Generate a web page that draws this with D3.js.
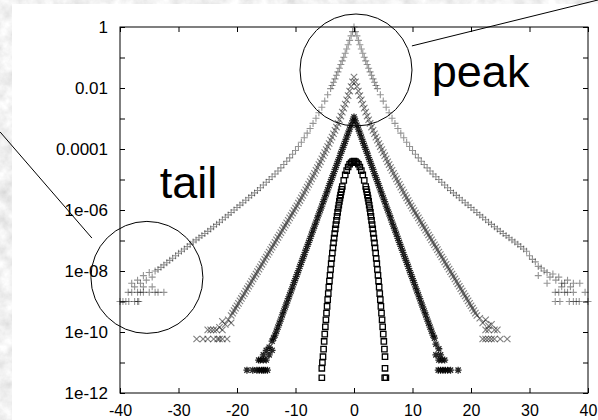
<!DOCTYPE html>
<html>
<head>
<meta charset="utf-8">
<script src="https://cdn.jsdelivr.net/npm/d3@7"></script>
<style>
body { margin: 0; background: #fff; }
svg { display: block; }
text { font-family: "Liberation Sans", Arial, Helvetica, sans-serif; }
</style>
</head>
<body>
<div id="chart"></div>
<script>
// values: |x| and log10 of the probability (the curves are symmetric)
var plusAbsX = [0,0.25,0.5,0.75,1,1.25,1.5,1.75,2,2.25,2.5,2.75,3,3.25,3.5,3.75,4,
  4.5,5,5.5,6,6.5,7,7.5,8,8.5,9,9.5,10,10.5,11,11.5,12,12.5,13,13.5,14,14.5,15,15.5,16,16.5,
  17,17.5,18,18.5,19,19.5,20,20.5,21,21.5,22,22.5,23,23.5,24,24.5,25,25.5,26,26.5,27,27.5,28,28.5,29,29.5];
var plusLog = [0,-0.15,-0.29,-0.44,-0.58,-0.72,-0.86,-0.99,-1.11,-1.23,-1.35,-1.47,-1.58,-1.7,-1.81,-1.92,-2.02,
  -2.22,-2.43,-2.63,-2.81,-2.99,-3.16,-3.33,-3.48,-3.63,-3.78,-3.92,-4.05,-4.17,-4.29,-4.4,-4.51,-4.62,-4.72,-4.82,-4.91,-5.0,-5.09,-5.18,-5.27,-5.36,
  -5.44,-5.52,-5.6,-5.68,-5.76,-5.84,-5.92,-6.0,-6.08,-6.16,-6.24,-6.32,-6.4,-6.47,-6.55,-6.62,-6.7,-6.77,-6.84,-6.91,-6.98,-7.05,-7.12,-7.2,-7.28,-7.35];
// noisy tails (signed x)
var plusTailX = [-30,-30.5,-31,-31.5,-32,-32.5,-33,-33.5,-34,-34.5,-35,-35.5,-36,-36.5,-37,-37.5,-36,-34.5,-38,
  -32.5,-33.5,-34,-35,-36,-36.5,-37,-38,-38.6,
  -36.8,-37,-37.5,-38.5,-39,-39.5,-40,
  30,30.5,31,31.5,32,32.5,33,33.5,34,34.5,35,35.5,36,33,31.5,36.5,37,
  35.5,37.5,38.6,
  34.4,35,36,36.5,37.5,39.5,
  34.4,35.2,36.8,37.5,38,38.5,40];
var plusTailLog = [-7.42,-7.5,-7.58,-7.65,-7.73,-7.8,-7.88,-7.95,-8.0,-8.2,-8.05,-8.3,-8.15,-8.4,-8.3,-8.52,-8.52,-8.52,-8.4,
  -8.7,-8.7,-8.7,-8.7,-8.7,-8.7,-8.7,-8.7,-8.7,
  -9,-9,-9,-9,-9,-9,-9,
  -7.5,-7.62,-7.7,-7.85,-7.9,-8.0,-8.05,-8.2,-8.1,-8.3,-8.2,-8.52,-8.4,-8.4,-8.15,-8.3,-8.52,
  -8.4,-8.4,-8.4,
  -8.7,-8.7,-8.7,-8.7,-8.7,-8.7,
  -9,-9,-9,-9,-9,-9,-9];

var crossAbsX = [0,0.25,0.5,0.75,1,1.25,1.5,1.75,2,2.25,2.5,2.75,3,3.25,3.5,3.75,4,4.25,4.5,4.75,5,5.25,5.5,5.75,
  6,6.25,6.5,6.75,7,7.25,7.5,7.75,8,8.25,8.5,8.75,9,9.25,9.5,9.75,10,10.25,10.5,10.75,11,11.25,11.5,11.75,
  12,12.25,12.5,12.75,13,13.25,13.5,13.75,14,14.25,14.5,14.75,15,15.25,15.5,15.75,16,16.25,16.5,16.75,
  17,17.25,17.5,17.75,18,18.25,18.5,18.75,19,19.25,19.5,19.75,20,20.25,20.5,20.75,21];
var crossLog = [-1.64,-1.8,-1.95,-2.1,-2.25,-2.39,-2.53,-2.66,-2.79,-2.92,-3.04,-3.16,-3.28,-3.39,-3.5,-3.61,-3.71,-3.82,-3.92,-4.02,-4.12,-4.22,-4.32,-4.42,
  -4.51,-4.61,-4.7,-4.8,-4.89,-4.98,-5.07,-5.16,-5.25,-5.34,-5.43,-5.52,-5.6,-5.69,-5.77,-5.86,-5.94,-6.02,-6.1,-6.18,-6.26,-6.34,-6.42,-6.5,
  -6.58,-6.66,-6.74,-6.82,-6.9,-6.98,-7.06,-7.14,-7.22,-7.3,-7.38,-7.46,-7.54,-7.62,-7.7,-7.78,-7.86,-7.94,-8.02,-8.1,
  -8.18,-8.26,-8.34,-8.42,-8.5,-8.58,-8.66,-8.74,-8.82,-8.9,-8.98,-9.06,-9.14,-9.22,-9.3,-9.38,-9.46];
var crossTailX = [-21.5,-22,-22.5,-23,-21,-23.5,-24,-24.5,-25,-22.5,-21.7,-22.5,-23,-23.3,-24,-25,-25.8,-26.9,
  21.5,22,22.5,23,23.5,24,23,22.5,24.5,22,22.5,23,23.5,24,25,26.2];
var crossTailLog = [-9.6,-9.75,-9.65,-9.85,-9.7,-9.93,-9.93,-9.93,-9.93,-9.93,-10.23,-10.23,-10.23,-10.23,-10.23,-10.23,-10.23,-10.23,
  -9.55,-9.7,-9.6,-9.8,-9.75,-9.93,-9.93,-9.93,-9.93,-10.23,-10.23,-10.23,-10.23,-10.23,-10.23,-10.23];

var starAbsX = [0,0.25,0.5,0.75,1,1.25,1.5,1.75,2,2.25,2.5,2.75,3,3.25,3.5,3.75,4,4.25,4.5,4.75,5,5.25,5.5,5.75,
  6,6.25,6.5,6.75,7,7.25,7.5,7.75,8,8.25,8.5,8.75,9,9.25,9.5,9.75,10,10.25,10.5,10.75,11,11.25,11.5,11.75,
  12,12.25,12.5,12.75,13,13.25,13.5];
var starLog = [-2.95,-3.08,-3.22,-3.35,-3.48,-3.61,-3.75,-3.88,-4.01,-4.14,-4.28,-4.41,-4.54,-4.67,-4.81,-4.94,-5.07,-5.2,-5.34,-5.47,-5.6,-5.73,-5.87,-6.0,
  -6.13,-6.26,-6.4,-6.53,-6.66,-6.79,-6.93,-7.06,-7.19,-7.32,-7.46,-7.59,-7.72,-7.85,-7.99,-8.12,-8.25,-8.38,-8.52,-8.65,-8.78,-8.91,-9.05,-9.18,
  -9.31,-9.44,-9.58,-9.71,-9.84,-9.97,-10.1];
var starTailX = [-13.75,-14,-14.5,-14,-15,-15.5,-14.5,-15,-15.5,-16,-16.3,-14.8,-15.2,-15.5,-15.8,-16.2,-16.6,-17.3,-18.3,
  13.75,14,14.5,14,14.8,14.5,15,15.5,14.4,14.8,15.2,15.6,16,16.5,17.8];
var starTailLog = [-10.2,-10.3,-10.5,-10.6,-10.6,-10.75,-10.75,-10.92,-10.92,-10.92,-10.92,-11.25,-11.25,-11.25,-11.25,-11.25,-11.25,-11.25,-11.25,
  -10.2,-10.4,-10.55,-10.75,-10.75,-10.92,-10.92,-10.92,-11.25,-11.25,-11.25,-11.25,-11.25,-11.25,-11.25];

var boxAbsX = [0,0.25,0.5,0.75,1,1.25,1.5,1.75,2,2.1,2.2,2.3,2.4,2.5,2.6,2.7,2.8,2.9,3,3.1,3.2,3.3,3.4,3.5,
  3.6,3.7,3.8,3.9,4,4.1,4.2,4.3,4.4,4.5,4.6,4.7,4.8,4.9,5,5.1,5.2,5.3];
var boxLog = [-4.4,-4.41,-4.45,-4.5,-4.59,-4.71,-4.85,-5.03,-5.23,-5.32,-5.41,-5.51,-5.61,-5.72,-5.84,-5.95,-6.08,-6.21,-6.34,-6.48,-6.62,-6.77,-6.92,-7.08,
  -7.24,-7.41,-7.59,-7.76,-7.95,-8.14,-8.33,-8.53,-8.74,-8.94,-9.16,-9.38,-9.6,-9.83,-10.07,-10.31,-10.56,-10.81];
var boxTailX = [-5.4,-5.5,-5.5,5.3,5.25,5.45];
var boxTailLog = [-11.0,-11.19,-11.5,-11.19,-11.5,-11.5];

var xTicks = [-40,-30,-20,-10,0,10,20,30,40];
var yTicks = [1e-12,1e-11,1e-10,1e-9,1e-8,1e-7,1e-6,1e-5,1e-4,1e-3,1e-2,1e-1,1];
var yLabels = {"-12":"1e-12","-10":"1e-10","-8":"1e-08","-6":"1e-06","-4":"0.0001","-2":"0.01","0":"1"};

var width = 598, height = 420;
var plot = {left: 120, right: 588, top: 27, bottom: 393};

var x = d3.scaleLinear().domain([-40, 40]).range([plot.left, plot.right]);
var y = d3.scaleLog().domain([1e-12, 1]).range([plot.bottom, plot.top]);

var svg = d3.select("#chart")
  .append("svg")
  .attr("width", width)
  .attr("height", height);

// marbled backdrop + white sheet
var filter = svg.append("defs").append("filter")
  .attr("id", "paper")
  .attr("x", 0).attr("y", 0).attr("width", "100%").attr("height", "100%");
filter.append("feTurbulence")
  .attr("type", "fractalNoise")
  .attr("baseFrequency", "0.07")
  .attr("numOctaves", 4)
  .attr("seed", 7);
filter.append("feColorMatrix")
  .attr("type", "matrix")
  .attr("values", "0.45 0 0 0 0.65  0.45 0 0 0 0.65  0.45 0 0 0 0.65  0 0 0 0 1");

svg.append("rect")
  .attr("width", width).attr("height", height)
  .attr("fill", "#ddd")
  .attr("filter", "url(#paper)");
svg.append("rect")
  .attr("x", 12).attr("y", 4)
  .attr("width", width - 12).attr("height", height - 4)
  .attr("fill", "#fff");

// axes, gnuplot style (inward ticks, mirrored)
var yAxis = d3.axisLeft(y)
  .tickValues(yTicks)
  .tickSizeInner(-5).tickSizeOuter(0).tickPadding(12)
  .tickFormat(function (d) { return yLabels[Math.round(Math.log10(d))] || ""; });
var xAxis = d3.axisBottom(x)
  .tickValues(xTicks)
  .tickSizeInner(-5).tickSizeOuter(0).tickPadding(12)
  .tickFormat(function (d) { return String(d); });

svg.append("g")
  .attr("class", "yaxis")
  .attr("transform", "translate(" + plot.left + ",0)")
  .call(yAxis);
svg.append("g")
  .attr("class", "xaxis")
  .attr("transform", "translate(0," + plot.bottom + ")")
  .call(xAxis);
svg.append("g")
  .attr("transform", "translate(" + plot.right + ",0)")
  .call(d3.axisRight(y).tickValues(yTicks).tickSizeInner(-5).tickSizeOuter(0).tickFormat(""));
svg.append("g")
  .attr("transform", "translate(0," + plot.top + ")")
  .call(d3.axisTop(x).tickValues(xTicks).tickSizeInner(-5).tickSizeOuter(0).tickFormat(""));

svg.selectAll(".domain").remove();
svg.selectAll(".tick line").attr("stroke", "#000");
svg.selectAll(".yaxis .tick text").style("font-size", "17px").attr("fill", "#000");
svg.selectAll(".xaxis .tick text").style("font-size", "16px").attr("fill", "#000");

svg.append("rect")
  .attr("x", plot.left).attr("y", plot.top)
  .attr("width", plot.right - plot.left).attr("height", plot.bottom - plot.top)
  .attr("fill", "none")
  .attr("stroke", "#000")
  .attr("stroke-width", 1);

// markers
var shapes = {
  plus: "M-3.5,0H3.5M0,-3.5V3.5",
  cross: "M-3.2,-3.2L3.2,3.2M-3.2,3.2L3.2,-3.2",
  star: "M-3.5,0H3.5M0,-3.5V3.5M-2.6,-2.6L2.6,2.6M-2.6,2.6L2.6,-2.6",
  box: "M-2.7,-2.7H2.7V2.7H-2.7Z"
};

var marks = svg.append("g");

function addSeries(absX, logs, tailX, tailLog, shape, color, strokeW, opacity) {
  var pts = [];
  absX.forEach(function (v, i) {
    pts.push([-v, logs[i]]);
    if (v !== 0) pts.push([v, logs[i]]);
  });
  tailX.forEach(function (v, i) { pts.push([v, tailLog[i]]); });

  marks.append("g")
    .selectAll("path")
    .data(pts)
    .enter()
    .append("path")
    .attr("d", shapes[shape])
    .attr("transform", function (d) {
      return "translate(" + x(d[0]) + "," + y(Math.pow(10, d[1])) + ")";
    })
    .attr("fill", "none")
    .attr("stroke", color)
    .attr("stroke-width", strokeW)
    .attr("stroke-opacity", opacity);
}

addSeries(plusAbsX, plusLog, plusTailX, plusTailLog, "plus", "#000", 1.1, 0.42);
addSeries(crossAbsX, crossLog, crossTailX, crossTailLog, "cross", "#000", 1.1, 0.5);
addSeries(starAbsX, starLog, starTailX, starTailLog, "star", "#000", 1.3, 0.85);
addSeries(boxAbsX, boxLog, boxTailX, boxTailLog, "box", "#000", 1.3, 1);

// annotations
var ann = svg.append("g").attr("fill", "none").attr("stroke", "#000").attr("stroke-width", 1);
ann.append("circle").attr("cx", x(0.34)).attr("cy", y(Math.pow(10, -1.41))).attr("r", 56);
ann.append("circle").attr("cx", x(-35.4)).attr("cy", y(Math.pow(10, -8.21))).attr("r", 56);
ann.append("line")
  .attr("x1", x(9.9)).attr("y1", y(Math.pow(10, -0.62)))
  .attr("x2", x(42)).attr("y2", y(Math.pow(10, 0.9)));
ann.append("line")
  .attr("x1", x(-60.5)).attr("y1", y(Math.pow(10, -3.44)))
  .attr("x2", x(-44.8)).attr("y2", y(Math.pow(10, -6.92)));

svg.append("text")
  .attr("x", x(13.3)).attr("y", y(Math.pow(10, -1.97)))
  .style("font-size", "45px")
  .text("peak");
svg.append("text")
  .attr("x", x(-33.2)).attr("y", y(Math.pow(10, -5.61)))
  .style("font-size", "45px")
  .text("tail");
</script>
</body>
</html>
